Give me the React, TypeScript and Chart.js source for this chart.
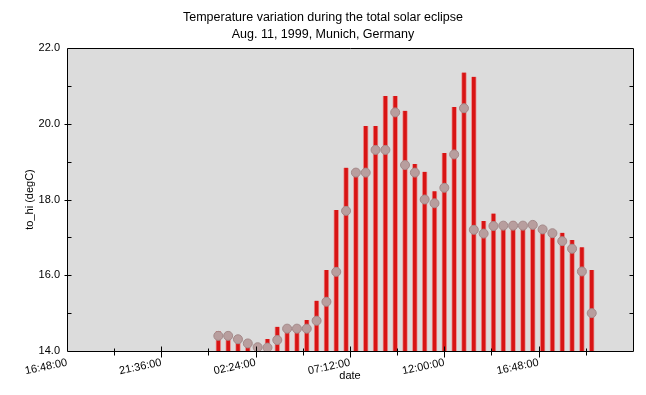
import React, { useEffect, useRef } from 'react';
import { Chart, registerables } from 'chart.js';

Chart.register(...registerables);

// ---- data (half-hourly readings, Aug. 11, 1999) ----
const times = [
  '00:30', '01:00', '01:30', '02:00', '02:30', '03:00', '03:30', '04:00', '04:30', '05:00',
  '05:30', '06:00', '06:30', '07:00', '07:30', '08:00', '08:30', '09:00', '09:30', '10:00',
  '10:30', '11:00', '11:30', '12:00', '12:30', '13:00', '13:30', '14:00', '14:30', '15:00',
  '15:30', '16:00', '16:30', '17:00', '17:30', '18:00', '18:30', '19:00', '19:30',
];
const toHi = [
  14.53, 14.45, 14.36, 14.22, 14.18, 14.32, 14.64, 14.65, 14.68, 14.82,
  15.33, 16.14, 17.72, 18.84, 18.8, 19.94, 19.94, 20.73, 20.73, 20.34,
  18.94, 18.73, 18.22, 19.23, 20.44, 21.35, 21.24, 17.43, 17.63, 17.38,
  17.42, 17.4, 17.4, 17.26, 17.2, 17.12, 16.93, 16.74, 16.14,
];
const toValue = [
  14.4, 14.4, 14.31, 14.2, 14.1, 14.09, 14.29, 14.59, 14.59, 14.59,
  14.8, 15.3, 16.09, 17.7, 18.71, 18.71, 19.31, 19.31, 20.3, 18.91,
  18.71, 18.0, 17.9, 18.31, 19.19, 20.41, 17.2, 17.1, 17.3, 17.31,
  17.31, 17.31, 17.33, 17.21, 17.11, 16.9, 16.7, 16.1, 15.0,
];
const xTickLabels = ['16:48:00', '21:36:00', '02:24:00', '07:12:00', '12:00:00', '16:48:00'];
const yMin = 14;
const yMax = 22;

// axis starts at 16:48 on Aug. 10; ticks every 2h24m
const AXIS_START_H = 16.8;
const TICK_STEP_H = 2.4;
const AXIS_SPAN_H = 28.8;

// all readings are on the following day (Aug. 11)
function hoursFromStart(t: string): number {
  const [h, m] = t.split(':').map(Number);
  return h + m / 60 + 24 - AXIS_START_H;
}

const FONT = 'Liberation Sans';

const framePlugin = {
  id: 'frame',
  beforeDraw(chart: any) {
    const { ctx, chartArea: a } = chart;
    ctx.save();
    ctx.fillStyle = '#dcdcdc';
    ctx.fillRect(a.left, a.top, a.right - a.left, a.bottom - a.top);
    ctx.restore();
  },
  afterDraw(chart: any) {
    const { ctx, chartArea: a, scales } = chart;
    const x = scales.x;
    const y = scales.y;
    ctx.save();
    ctx.strokeStyle = '#000';
    ctx.lineWidth = 1;
    ctx.beginPath();
    const L = a.left + 0.5, R = a.right + 0.5, T = a.top + 0.5, B = a.bottom + 0.5;
    ctx.moveTo(L, T); ctx.lineTo(R, T); ctx.lineTo(R, B); ctx.lineTo(L, B); ctx.closePath();
    // y ticks (left & right), every degree
    for (let v = yMin + 1; v < yMax; v++) {
      const py = Math.round(y.getPixelForValue(v)) + 0.5;
      const major = v % 2 === 0;
      ctx.moveTo(major ? L - 3 : L, py); ctx.lineTo(L + 4, py);
      ctx.moveTo(R, py); ctx.lineTo(R - 4, py);
    }
    // x ticks
    const n = Math.round(AXIS_SPAN_H / TICK_STEP_H);
    for (let i = 1; i < n; i++) {
      const px = Math.round(x.getPixelForValue(i * TICK_STEP_H)) + 0.5;
      const major = i % 2 === 0;
      ctx.moveTo(px, major ? B - 5 : B - 3); ctx.lineTo(px, major ? B + 6 : B + 4);
    }
    ctx.stroke();
    ctx.restore();
  },
};

export default function App() {
  const ref = useRef<HTMLCanvasElement | null>(null);

  useEffect(() => {
    if (!ref.current) return;
    const xs = times.map(hoursFromStart);
    const chart = new Chart(ref.current, {
      type: 'bar',
      data: {
        datasets: [
          {
            type: 'line',
            label: 'to',
            data: xs.map((x, i) => ({ x, y: toValue[i] })),
            showLine: false,
            pointRadius: 4.5,
            pointBackgroundColor: '#b89e9e',
            pointBorderColor: '#a48a8a',
            pointBorderWidth: 1,
            order: 0,
          } as any,
          {
            type: 'bar',
            label: 'to_hi',
            data: xs.map((x, i) => ({ x, y: toHi[i] })),
            backgroundColor: '#d81414',
            borderColor: '#ec9494',
            borderWidth: { left: 1, right: 1, top: 0, bottom: 0 },
            borderSkipped: false,
            barThickness: 5,
            order: 1,
          } as any,
        ],
      },
      options: {
        responsive: false,
        animation: false,
        layout: { padding: { left: 0, right: 0, top: 0, bottom: 0 } },
        plugins: {
          legend: { display: false },
          tooltip: { enabled: false },
          title: {
            display: true,
            text: ['Temperature variation during the total solar eclipse', 'Aug. 11, 1999, Munich, Germany'],
            color: '#000',
            font: { family: FONT, size: 12.5, weight: 'normal', lineHeight: '17px' } as any,
            padding: { top: 9.5, bottom: 4.5 },
          },
        },
        scales: {
          x: {
            type: 'linear',
            min: 0,
            max: AXIS_SPAN_H,
            offset: false,
            grid: { display: false, drawTicks: false },
            border: { display: false },
            afterBuildTicks: (scale: any) => {
              const n = Math.round(AXIS_SPAN_H / TICK_STEP_H);
              scale.ticks = Array.from({ length: n + 1 }, (_, i) => ({ value: i * TICK_STEP_H }));
            },
            afterFit: (scale: any) => { scale.height = 44; },
            ticks: {
              autoSkip: false,
              minRotation: 12,
              maxRotation: 12,
              padding: 5,
              color: '#000',
              font: { family: FONT, size: 11 },
              callback: (_v: any, index: number) =>
                index % 2 === 0 && index / 2 < xTickLabels.length ? xTickLabels[index / 2] : '',
            },
            title: {
              display: true,
              text: 'date',
              color: '#000',
              font: { family: FONT, size: 11 },
              padding: { top: 0, bottom: 12 },
            },
          },
          y: {
            type: 'linear',
            min: yMin,
            max: yMax,
            grid: { display: false, drawTicks: false },
            border: { display: false },
            afterFit: (scale: any) => { scale.width = 67; },
            ticks: {
              stepSize: 2,
              padding: 7,
              color: '#000',
              font: { family: FONT, size: 11 },
              callback: (v: any) => Number(v).toFixed(1),
            },
            title: {
              display: true,
              text: 'to_hi (degC)',
              color: '#000',
              font: { family: FONT, size: 11 },
              padding: { top: 23, bottom: 0 },
            },
          },
          yRight: {
            type: 'linear',
            position: 'right',
            min: yMin,
            max: yMax,
            grid: { display: false, drawTicks: false },
            border: { display: false },
            ticks: { display: false },
            afterFit: (scale: any) => { scale.width = 13; },
          },
        },
      },
      plugins: [framePlugin],
    });
    return () => chart.destroy();
  }, []);

  return (
    <div style={{ position: 'absolute', left: 0, top: 0, width: 646, height: 395, background: '#fff' }}>
      <canvas ref={ref} width={646} height={395} style={{ width: 646, height: 395 }} />
    </div>
  );
}
